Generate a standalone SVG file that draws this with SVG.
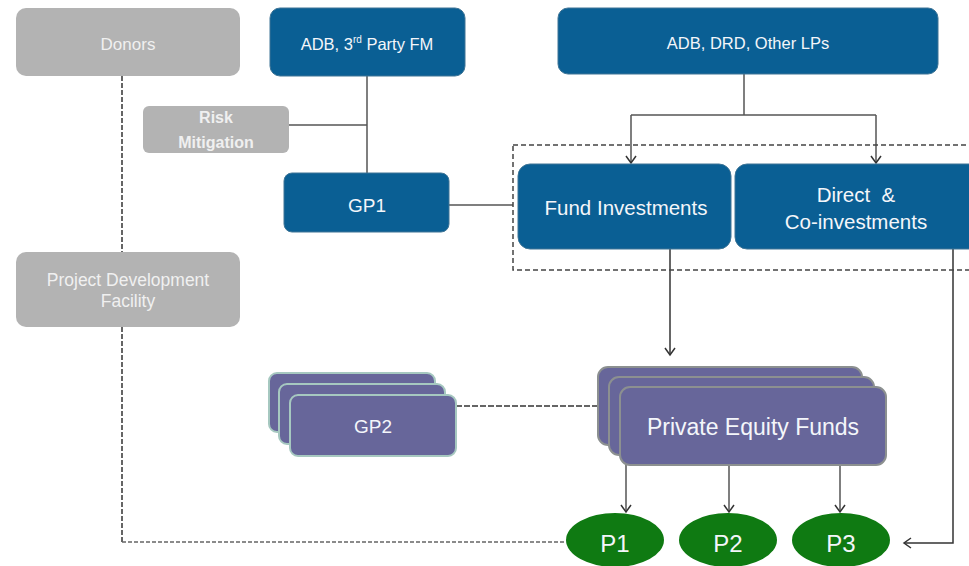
<svg xmlns="http://www.w3.org/2000/svg" width="969" height="566" viewBox="0 0 969 566">
<style>
.gray{fill:#b3b3b3}
.blue{fill:#0a5f94;stroke:#3f7596;stroke-width:1}
.pur{fill:#67669a}
.pe{stroke:#8c9090;stroke-width:2}
.gp2{stroke:#a6c8c0;stroke-width:2}
.grn{fill:#0f7a12}
text{font-family:"Liberation Sans",Arial,sans-serif;text-anchor:middle}
.tg{fill:#f0f0f0}
.tw{fill:#f4f6fa}
.ln{fill:none;stroke:#555;stroke-width:1.5}
.lnd{fill:none;stroke:#333;stroke-width:1.5}
</style>
<defs>
<marker id="ah" markerWidth="12" markerHeight="12" refX="9" refY="6" orient="auto" markerUnits="userSpaceOnUse">
<path d="M2,1 L9,6 L2,11" fill="none" stroke="#333" stroke-width="1.5"/>
</marker>
</defs>
<rect width="969" height="566" fill="#ffffff"/>

<g id="connectors">
<path class="ln" d="M367,76 V173"/>
<path class="ln" d="M289,125 H367"/>
<path class="ln" d="M449,205 H513"/>
<path class="ln" d="M744,74 V115 M631,115 H876"/>
<path class="ln" d="M631,115 V163" marker-end="url(#ah)"/>
<path class="ln" d="M876,115 V163" marker-end="url(#ah)"/>
<path class="lnd" d="M670,249 V355" marker-end="url(#ah)"/>
<path class="lnd" d="M953,249 V543 H904" marker-end="url(#ah)"/>
<path class="lnd" d="M122,76 V252" stroke-dasharray="5,2"/>
<path class="lnd" d="M122,327 V542" stroke-dasharray="5,2"/>
<path fill="none" stroke="#666" stroke-width="1.5" stroke-dasharray="4,2" d="M122,542 H565"/>
<path class="lnd" d="M456,406 H598" stroke-dasharray="6,2"/>
<path class="ln" d="M626,465 V512" marker-end="url(#ah)"/>
<path class="ln" d="M729,465 V512" marker-end="url(#ah)"/>
<path class="ln" d="M840,465 V512" marker-end="url(#ah)"/>
<rect x="513" y="145" width="470" height="125" fill="none" stroke="#444" stroke-width="1.5" stroke-dasharray="5,3"/>
</g>

<g id="donors">
<rect class="gray" x="16" y="8" width="224" height="68" rx="10"/>
<text class="tg" x="128" y="50" font-size="17">Donors</text>
</g>

<g id="adb-3rd-party">
<rect class="blue" x="270" y="8" width="195" height="68" rx="10"/>
<text class="tw" x="367" y="50" font-size="16.5">ADB, 3<tspan font-size="10" dy="-7">rd</tspan><tspan dy="7"> Party FM</tspan></text>
</g>

<g id="adb-drd">
<rect class="blue" x="558" y="8" width="380" height="66" rx="10"/>
<text class="tw" x="748" y="49" font-size="16.5">ADB, DRD, Other LPs</text>
</g>

<g id="risk">
<rect class="gray" x="143" y="106" width="146" height="47" rx="6"/>
<text class="tg" x="216" y="123" font-size="16" font-weight="bold">Risk</text>
<text class="tg" x="216" y="148" font-size="16" font-weight="bold">Mitigation</text>
</g>

<g id="gp1">
<rect class="blue" x="284" y="173" width="165" height="59" rx="8"/>
<text class="tw" x="367" y="212" font-size="19">GP1</text>
</g>

<g id="fund-investments">
<rect class="blue" x="518" y="164" width="213" height="85" rx="12" stroke="#6e8e9e" stroke-width="2"/>
<text class="tw" x="626" y="215" font-size="20.5">Fund Investments</text>
</g>

<g id="direct">
<rect class="blue" x="735" y="164" width="250" height="85" rx="12" stroke="#6e8e9e" stroke-width="2"/>
<text class="tw" x="856" y="202" font-size="20.5" xml:space="preserve">Direct  &amp;</text>
<text class="tw" x="856" y="229" font-size="20.5">Co-investments</text>
</g>

<g id="pdf">
<rect class="gray" x="16" y="252" width="224" height="75" rx="10"/>
<text class="tg" x="128" y="286" font-size="17.5">Project Development</text>
<text class="tg" x="128" y="307" font-size="17.5">Facility</text>
</g>

<g id="gp2">
<rect class="pur gp2" x="269" y="373" width="166" height="59" rx="8"/>
<rect class="pur gp2" x="279" y="384" width="166" height="60" rx="8"/>
<rect class="pur gp2" x="290" y="395" width="166" height="61" rx="8"/>
<text class="tw" x="373" y="433" font-size="19">GP2</text>
</g>

<g id="pe-funds">
<rect class="pur pe" x="598" y="367" width="264" height="78" rx="10"/>
<rect class="pur pe" x="609" y="377" width="265" height="78" rx="10"/>
<rect class="pur pe" x="620" y="387" width="266" height="78" rx="10"/>
<text class="tw" x="753" y="435" font-size="23">Private Equity Funds</text>
</g>

<g id="p1">
<ellipse class="grn" cx="615" cy="540" rx="49" ry="27"/>
<text class="tw" x="615" y="552" font-size="24">P1</text>
</g>
<g id="p2">
<ellipse class="grn" cx="728" cy="540" rx="49" ry="27"/>
<text class="tw" x="728" y="552" font-size="24">P2</text>
</g>
<g id="p3">
<ellipse class="grn" cx="841" cy="540" rx="49" ry="27"/>
<text class="tw" x="841" y="552" font-size="24">P3</text>
</g>
</svg>
